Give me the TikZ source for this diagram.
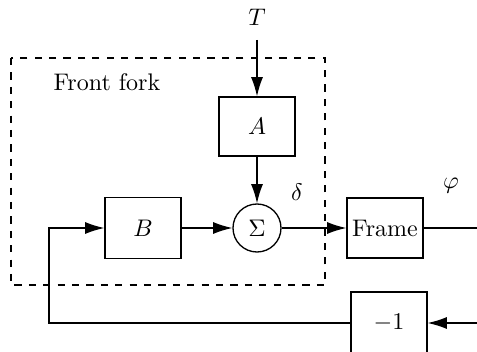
\documentclass[tikz,border=0pt]{standalone}
\usetikzlibrary{arrows.meta}
\begin{document}
\begin{tikzpicture}[x=0.41667pt,y=-0.41667pt,line width=0.55pt,
  blk/.style={draw,inner sep=0pt,minimum width={76*0.41667pt},minimum height={60*0.41667pt}},
  sumc/.style={draw,circle,inner sep=0pt,minimum size={48*0.41667pt}},
  arr/.style={-{Latex[length=8pt,width=5pt]}},
  frame/.style={draw,dashed,line width=0.45pt}]
\useasboundingbox (0,0) rectangle (477,352);
\draw[frame] (11,58) rectangle (325,285);
\node (ff) at (107,82) {Front fork};
\node (T) at (257,17) {$T$};
\coordinate (Ts) at (257,40);
\node[blk,minimum height={59*0.41667pt}] (A) at (257,126.5) {$A$};
\node[sumc] (S) at (257,228) {$\Sigma$};
\node[blk,minimum height={61*0.41667pt}] (B) at (143,228) {$B$};
\node[blk] (F) at (385,228) {Frame};
\node[blk,minimum height={62*0.41667pt}] (M) at (389,323) {$-1$};
\node (d) at (297,192) {$\delta$};
\node (p) at (451,186) {$\varphi$};
\coordinate (out) at (477,228);
\coordinate (in) at (477,323);
\coordinate (c1) at (49,323);
\coordinate (c2) at (49,228);
\draw[arr] (Ts) -- (A);
\draw[arr] (A) -- (S);
\draw[arr] (B) -- (S);
\draw[arr] (S) -- (F);
\draw (F.east) -- (out);
\draw[arr] (in) -- (M.east);
\draw[arr] (M.west) -- (c1) -- (c2) -- (B.west);
\end{tikzpicture}
\end{document}
